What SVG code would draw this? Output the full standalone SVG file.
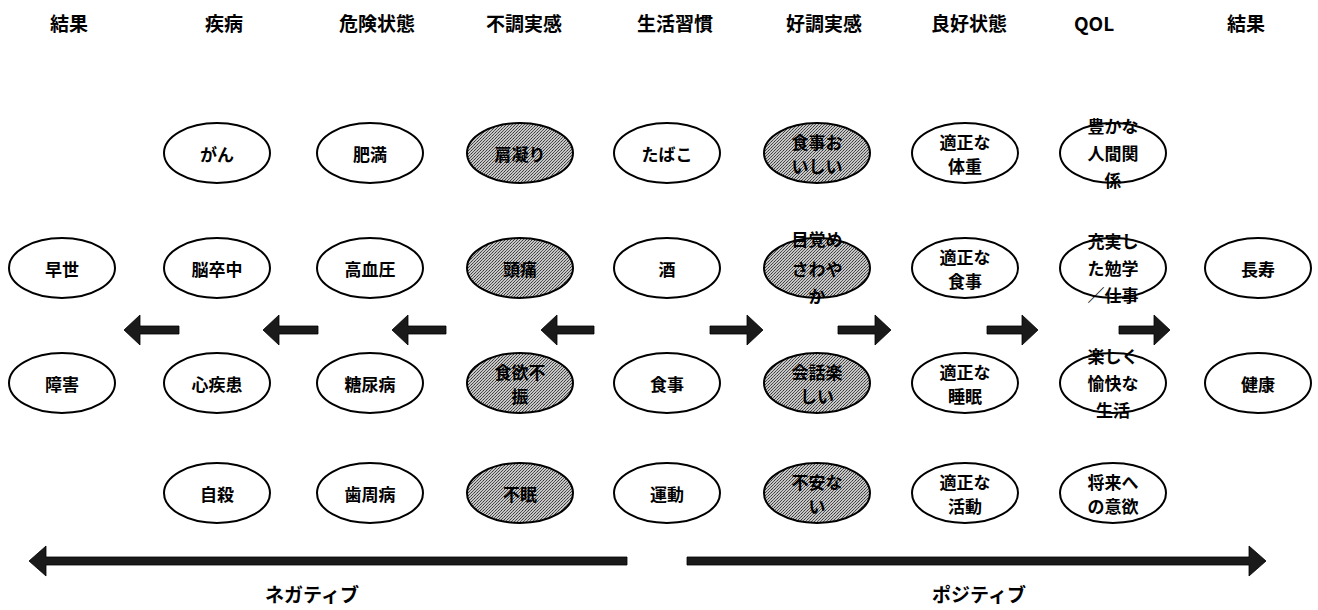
<svg xmlns="http://www.w3.org/2000/svg" width="1318" height="610" viewBox="0 0 1318 610">
<style>
text{font-family:"Noto Sans CJK JP","Noto Sans",sans-serif;font-weight:700;fill:#000;text-anchor:middle;dominant-baseline:central}
.h{font-size:19px}
.t{font-size:17px}
.lb{font-size:19px}
.e{fill:#fff;stroke:#000;stroke-width:2}
.g{fill:url(#stip);stroke:#000;stroke-width:2}
.ar{fill:#1a1a1a;stroke:#000;stroke-width:0.8}
</style>
<defs>
<pattern id="stip" width="3" height="3" patternUnits="userSpaceOnUse">
<rect width="3" height="3" fill="#c6c6c6"/>
<rect x="0" y="0" width="1" height="1" fill="#3a3a3a"/>
<rect x="2" y="1" width="1" height="1" fill="#5a5a5a"/>
<rect x="1" y="2" width="1" height="1" fill="#4a4a4a"/>
</pattern>
</defs>
<rect width="1318" height="610" fill="#fff"/>
<g id="headers">
<text class="h" x="69" y="22">結果</text>
<text class="h" x="224" y="22">疾病</text>
<text class="h" x="377" y="22">危険状態</text>
<text class="h" x="524" y="22">不調実感</text>
<text class="h" x="675" y="22">生活習慣</text>
<text class="h" x="824" y="22">好調実感</text>
<text class="h" x="969" y="22">良好状態</text>
<text class="h" x="1094" y="22">QOL</text>
<text class="h" x="1246" y="22">結果</text>
</g>
<g id="n-sousei"><ellipse class="e" cx="62" cy="268" rx="53" ry="30"/><text class="t" x="62" y="268">早世</text></g>
<g id="n-shougai"><ellipse class="e" cx="62" cy="383" rx="53" ry="30"/><text class="t" x="62" y="383">障害</text></g>
<g id="n-gan"><ellipse class="e" cx="217" cy="153" rx="53" ry="30"/><text class="t" x="217" y="153">がん</text></g>
<g id="n-nousottyu"><ellipse class="e" cx="217" cy="268" rx="53" ry="30"/><text class="t" x="217" y="268">脳卒中</text></g>
<g id="n-shinshikkan"><ellipse class="e" cx="217" cy="383" rx="53" ry="30"/><text class="t" x="217" y="383">心疾患</text></g>
<g id="n-jisatsu"><ellipse class="e" cx="217" cy="493" rx="53" ry="30"/><text class="t" x="217" y="493">自殺</text></g>
<g id="n-himan"><ellipse class="e" cx="370" cy="153" rx="53" ry="30"/><text class="t" x="370" y="153">肥満</text></g>
<g id="n-kouketsuatsu"><ellipse class="e" cx="370" cy="268" rx="53" ry="30"/><text class="t" x="370" y="268">高血圧</text></g>
<g id="n-tounyoubyou"><ellipse class="e" cx="370" cy="383" rx="53" ry="30"/><text class="t" x="370" y="383">糖尿病</text></g>
<g id="n-shishuubyou"><ellipse class="e" cx="370" cy="493" rx="53" ry="30"/><text class="t" x="370" y="493">歯周病</text></g>
<g id="n-katakori"><ellipse class="g" cx="520" cy="153" rx="53" ry="30"/><text class="t" x="520" y="153">肩凝り</text></g>
<g id="n-zutsuu"><ellipse class="g" cx="520" cy="268" rx="53" ry="30"/><text class="t" x="520" y="268">頭痛</text></g>
<g id="n-shokuyokufushin"><ellipse class="g" cx="520" cy="383" rx="53" ry="30"/><text class="t" x="520" y="371">食欲不</text><text class="t" x="520" y="395">振</text></g>
<g id="n-fumin"><ellipse class="g" cx="520" cy="493" rx="53" ry="30"/><text class="t" x="520" y="493">不眠</text></g>
<g id="n-tabako"><ellipse class="e" cx="667" cy="153" rx="53" ry="30"/><text class="t" x="667" y="153">たばこ</text></g>
<g id="n-sake"><ellipse class="e" cx="667" cy="268" rx="53" ry="30"/><text class="t" x="667" y="268">酒</text></g>
<g id="n-shokuji"><ellipse class="e" cx="667" cy="383" rx="53" ry="30"/><text class="t" x="667" y="383">食事</text></g>
<g id="n-undou"><ellipse class="e" cx="667" cy="493" rx="53" ry="30"/><text class="t" x="667" y="493">運動</text></g>
<g id="n-oishii"><ellipse class="g" cx="817" cy="153" rx="53" ry="30"/><text class="t" x="817" y="141">食事お</text><text class="t" x="817" y="165">いしい</text></g>
<g id="n-mezame"><ellipse class="g" cx="817" cy="268" rx="53" ry="30"/><text class="t" x="817" y="238">目覚め</text><text class="t" x="817" y="268">さわや</text><text class="t" x="817" y="295">か</text></g>
<g id="n-kaiwa"><ellipse class="g" cx="817" cy="383" rx="53" ry="30"/><text class="t" x="817" y="371">会話楽</text><text class="t" x="817" y="395">しい</text></g>
<g id="n-fuannai"><ellipse class="g" cx="817" cy="493" rx="53" ry="30"/><text class="t" x="817" y="481">不安な</text><text class="t" x="817" y="505">い</text></g>
<g id="n-taijuu"><ellipse class="e" cx="965" cy="153" rx="53" ry="30"/><text class="t" x="965" y="141">適正な</text><text class="t" x="965" y="165">体重</text></g>
<g id="n-tekisei-shokuji"><ellipse class="e" cx="965" cy="268" rx="53" ry="30"/><text class="t" x="965" y="256">適正な</text><text class="t" x="965" y="280">食事</text></g>
<g id="n-suimin"><ellipse class="e" cx="965" cy="383" rx="53" ry="30"/><text class="t" x="965" y="371">適正な</text><text class="t" x="965" y="395">睡眠</text></g>
<g id="n-katsudou"><ellipse class="e" cx="965" cy="493" rx="53" ry="30"/><text class="t" x="965" y="481">適正な</text><text class="t" x="965" y="505">活動</text></g>
<g id="n-ningen"><ellipse class="e" cx="1113" cy="153" rx="53" ry="30"/><text class="t" x="1113" y="125">豊かな</text><text class="t" x="1113" y="152">人間関</text><text class="t" x="1113" y="179">係</text></g>
<g id="n-juujitsu"><ellipse class="e" cx="1113" cy="268" rx="53" ry="30"/><text class="t" x="1113" y="240">充実し</text><text class="t" x="1113" y="267">た勉学</text><text class="t" x="1113" y="294">／仕事</text></g>
<g id="n-tanoshiku"><ellipse class="e" cx="1113" cy="383" rx="53" ry="30"/><text class="t" x="1113" y="355">楽しく</text><text class="t" x="1113" y="382">愉快な</text><text class="t" x="1113" y="409">生活</text></g>
<g id="n-shourai"><ellipse class="e" cx="1113" cy="493" rx="53" ry="30"/><text class="t" x="1113" y="481">将来へ</text><text class="t" x="1113" y="505">の意欲</text></g>
<g id="n-choujyu"><ellipse class="e" cx="1258" cy="268" rx="53" ry="30"/><text class="t" x="1258" y="268">長寿</text></g>
<g id="n-kenkou"><ellipse class="e" cx="1258" cy="383" rx="53" ry="30"/><text class="t" x="1258" y="383">健康</text></g>
<g id="connectors">
<polygon class="ar" points="124,330 140,315 140,326 179,326 179,334 140,334 140,345"/>
<polygon class="ar" points="263,330 279,315 279,326 318,326 318,334 279,334 279,345"/>
<polygon class="ar" points="392,330 408,315 408,326 446,326 446,334 408,334 408,345"/>
<polygon class="ar" points="541,330 557,315 557,326 594,326 594,334 557,334 557,345"/>
<polygon class="ar" points="763,330 747,315 747,326 710,326 710,334 747,334 747,345"/>
<polygon class="ar" points="891,330 875,315 875,326 838,326 838,334 875,334 875,345"/>
<polygon class="ar" points="1038,330 1022,315 1022,326 987,326 987,334 1022,334 1022,345"/>
<polygon class="ar" points="1170,330 1154,315 1154,326 1119,326 1119,334 1154,334 1154,345"/>
<polygon class="ar" points="29,561 46,546 46,557 627,557 627,565 46,565 46,576"/>
<polygon class="ar" points="1266,561 1249,546 1249,557 687,557 687,565 1249,565 1249,576"/>
</g>
<g id="labels">
<text class="lb" x="312" y="593">ネガティブ</text>
<text class="lb" x="979" y="593">ポジティブ</text>
</g>
</svg>
